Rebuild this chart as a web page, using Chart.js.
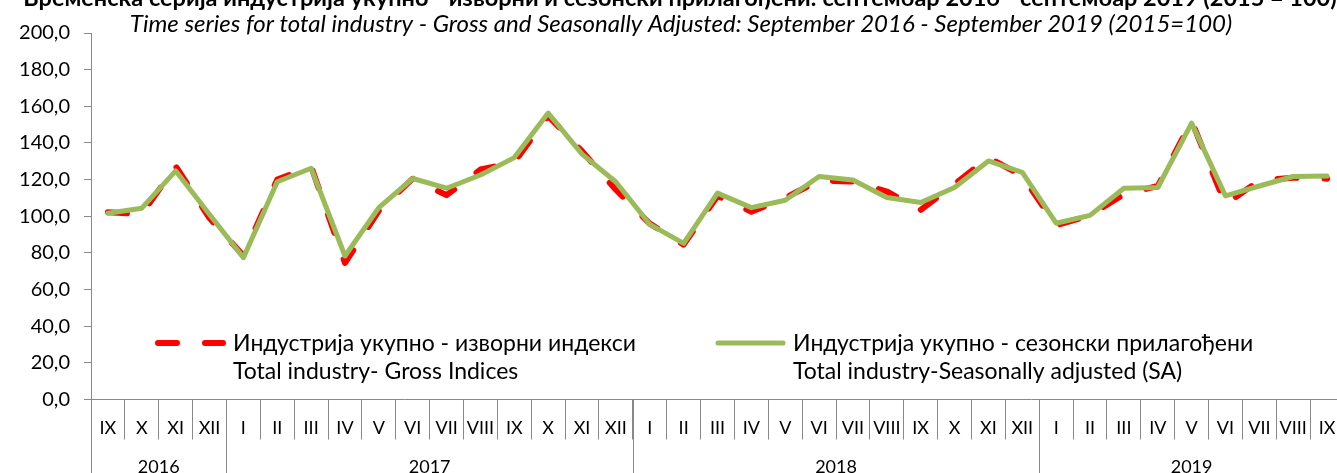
<!DOCTYPE html>
<html>
<head>
<meta charset="utf-8">
<script src="https://cdn.jsdelivr.net/npm/chart.js@4.4.0/dist/chart.umd.min.js"></script>
<style>
  html, body { margin: 0; padding: 0; background: #fff; overflow: hidden; }
  #wrap { position: relative; width: 1350px; height: 473px; }
</style>
</head>
<body>
<div id="wrap"><canvas id="chart"></canvas></div>
<script>
const months = ['IX','X','XI','XII',
  'I','II','III','IV','V','VI','VII','VIII','IX','X','XI','XII',
  'I','II','III','IV','V','VI','VII','VIII','IX','X','XI','XII',
  'I','II','III','IV','V','VI','VII','VIII','IX'];
const yearLabels = ['2016', '2017', '2018', '2019'];
const yearMonthCounts = [4, 12, 12, 9];

// gross (original) indices
const grossValues = [102.2, 101.2, 127.3, 99.0, 78.5, 120.0, 127.2, 74.5, 103.0, 120.5, 111.5, 125.5,
  129.5, 154.8, 135.5, 114.5, 96.0, 84.5, 111.0, 102.5, 110.0, 119.5, 119.0, 113.5,
  103.5, 117.5, 132.0, 122.0, 95.0, 100.5, 112.0, 116.5, 152.0, 106.5, 119.5, 121.0, 120.5];
// seasonally adjusted
const saValues = [101.6, 104.4, 124.8, 101.0, 77.4, 118.8, 126.2, 78.3, 104.7, 120.6, 115.3, 122.5,
  132.0, 156.3, 133.9, 118.7, 95.6, 85.2, 112.6, 104.7, 108.7, 121.7, 119.8, 110.2,
  107.5, 115.7, 130.2, 123.9, 96.2, 100.5, 115.3, 115.7, 150.8, 111.1, 116.5, 121.7, 122.0];

const yMin = 0, yMax = 200, yStep = 20;

const titleText = 'Временска серија индустрија укупно - изворни и сезонски прилагођени: септембар 2016 - септембар 2019 (2015 = 100)';
const subtitleText = 'Time series for total industry - Gross and Seasonally Adjusted: September 2016 - September 2019 (2015=100)';
const legendText = [
  ['Индустрија укупно - изворни индекси', 'Total industry- Gross Indices'],
  ['Индустрија укупно - сезонски прилагођени', 'Total industry-Seasonally adjusted (SA)']
];

const FONT = 'Lato, "Open Sans", sans-serif';
const GRAY = '#898989';

// titles, in-plot legend and the year row under the month labels
const decorations = {
  id: 'decorations',
  afterDraw(chart) {
    const { ctx, chartArea } = chart;
    const x = chart.scales.x;
    const half = (x.getPixelForValue(1) - x.getPixelForValue(0)) / 2;
    ctx.save();

    ctx.strokeStyle = GRAY;
    ctx.lineWidth = 1;
    ctx.fillStyle = '#000';
    ctx.font = `18px ${FONT}`;
    ctx.textAlign = 'center';
    ctx.textBaseline = 'middle';
    let start = 0;
    yearLabels.forEach((label, k) => {
      const end = start + yearMonthCounts[k] - 1;
      const left = x.getPixelForValue(start) - half;
      const right = x.getPixelForValue(end) + half;
      const lx = Math.round(left) + 0.5;
      ctx.beginPath();
      ctx.moveTo(lx, chartArea.bottom);
      ctx.lineTo(lx, chart.height);
      ctx.stroke();
      ctx.fillText(label, (left + right) / 2, 467);
      start = end + 1;
    });

    ctx.textAlign = 'center';
    ctx.textBaseline = 'alphabetic';
    ctx.font = `bold 23.5px ${FONT}`;
    ctx.fillText(titleText, 680, 6);
    ctx.font = `italic 24px ${FONT}`;
    ctx.fillText(subtitleText, 681, 32);

    // legend
    const items = [
      { ds: chart.data.datasets[0], x1: 155, x2: 226, tx: 233 },
      { ds: chart.data.datasets[1], x1: 715, x2: 786, tx: 793 }
    ];
    items.forEach((it, k) => {
      ctx.save();
      ctx.strokeStyle = it.ds.borderColor;
      ctx.lineWidth = it.ds.borderWidth;
      ctx.lineCap = 'round';
      ctx.setLineDash(it.ds.borderDash || []);
      ctx.beginPath();
      ctx.moveTo(it.x1 + 3, 343);
      ctx.lineTo(it.x2 - 3, 343);
      ctx.stroke();
      ctx.restore();
      ctx.font = `23px ${FONT}`;
      ctx.textAlign = 'left';
      ctx.fillStyle = '#000';
      ctx.fillText(legendText[k][0], it.tx, 351);
      ctx.fillText(legendText[k][1], it.tx, 379);
    });
    ctx.restore();
  }
};

new Chart(document.getElementById('chart'), {
  type: 'line',
  data: {
    labels: months,
    datasets: [
      {
        label: legendText[0].join(' '),
        data: grossValues,
        borderColor: '#FF0000',
        borderWidth: 6,
        borderDash: [19, 28],
        borderCapStyle: 'round',
        borderJoinStyle: 'round',
        pointRadius: 0,
        tension: 0,
        order: 2
      },
      {
        label: legendText[1].join(' '),
        data: saValues,
        borderColor: '#9BBB59',
        borderWidth: 5,
        borderCapStyle: 'round',
        borderJoinStyle: 'round',
        pointRadius: 0,
        tension: 0,
        order: 1
      }
    ]
  },
  options: {
    responsive: true,
    maintainAspectRatio: false,
    animation: false,
    events: [],
    layout: { padding: { top: 33, right: 6, left: 0, bottom: 0 } },
    plugins: {
      legend: { display: false },
      title: { display: false },
      tooltip: { enabled: false }
    },
    scales: {
      x: {
        offset: true,
        afterFit: s => { s.height = 473 - 33 - 366.5; },
        border: { display: true, color: GRAY, width: 1 },
        grid: { offset: true, drawOnChartArea: false, drawTicks: true, tickLength: 40, color: GRAY },
        ticks: {
          autoSkip: false, maxRotation: 0, minRotation: 0, padding: -22,
          color: '#000', font: { family: FONT, size: 18 }
        }
      },
      y: {
        min: yMin, max: yMax,
        afterFit: s => { s.width = 91; },
        border: { display: true, color: GRAY, width: 1 },
        grid: { drawOnChartArea: false, drawTicks: true, tickLength: 7, color: GRAY },
        ticks: {
          stepSize: yStep, padding: 14, color: '#000',
          font: { family: FONT, size: 20 },
          callback: v => v.toFixed(1).replace('.', ',')
        }
      }
    }
  },
  plugins: [decorations]
});
</script>
</body>
</html>
